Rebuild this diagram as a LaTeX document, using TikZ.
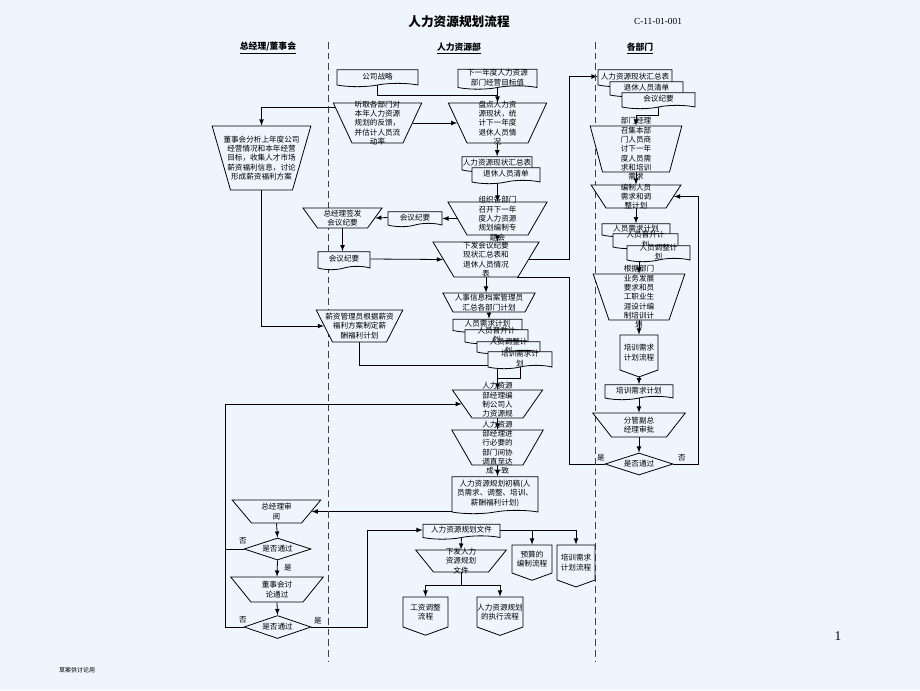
\documentclass[tikz,border=0pt]{standalone}
\usepackage{fontspec}
\setmainfont{Liberation Serif}
\newfontfamily\cjk{Noto Sans CJK SC}
\usetikzlibrary{shapes.geometric,shapes.symbols,positioning}
\definecolor{sfondo}{RGB}{238,245,253}
\newdimen\pxu
\pxu=0.75pt
\pgfdeclarelayer{sotto}
\pgfsetlayers{sotto,main}
\tikzset{
  testo/.style={font=\cjk\fontsize{5.7pt}{7pt}\selectfont},
  every label/.style={testo, align=center, inner sep=0pt},
  trap/.style n args={3}{trapezium, shape border rotate=180,
    trapezium angle=#3, text width=#1\pxu, text height=#2\pxu,
    text depth=0pt, inner sep=0pt, draw, fill=sfondo, line width=0.6pt},
  doc/.style 2 args={tape, tape bend top=none, tape bend height=2.5pt,
    draw, fill=sfondo, line width=0.6pt, inner sep=0pt,
    minimum width=#1\pxu, minimum height=#2\pxu},
  uscita/.style 2 args={signal, signal to=south, signal from=nowhere,
    signal pointer angle=140, draw, fill=sfondo, line width=0.6pt,
    inner sep=0pt, minimum width=#1\pxu, minimum height=#2\pxu},
  scelta/.style={diamond, aspect=3, draw, fill=sfondo, line width=0.6pt,
    inner sep=0pt, minimum width=67\pxu, minimum height=22\pxu, testo},
  freccia/.style={->, >=latex, line width=0.6pt},
  linea/.style={line width=0.6pt},
  corsia/.style={dash pattern=on 5pt off 3pt, line width=0.7pt, black!75},
  titolo/.style={font=\cjk\bfseries\fontsize{6.6pt}{8pt}\selectfont},
  sino/.style={testo, inner sep=0pt}
}

\begin{document}
\begin{tikzpicture}[x=0.75pt,y=-0.75pt]
    % Sfondo
    \useasboundingbox (0,0) rectangle (920,690);
    \begin{pgfonlayer}{sotto}
      \fill[sfondo] (0,0) rectangle (920,690);
    \end{pgfonlayer}
    % Titolo e intestazioni
    \node[font=\cjk\bfseries\fontsize{9.5pt}{11pt}\selectfont] (tit) at (459,22) {人力资源规划流程};
    \node[font=\fontsize{7pt}{8pt}\selectfont] (codice) at (658,21) {C-11-01-001};
    \node[titolo] (capo1) at (268,48) {\underline{总经理/董事会}};
    \node[titolo] (capo2) at (459,48) {\underline{人力资源部}};
    \node[titolo] (capo3) at (640,48) {\underline{各部门}};
    \node[font=\fontsize{10pt}{12pt}\selectfont] (pagina) at (838,636) {1};
    \node[font=\cjk\fontsize{4.5pt}{5pt}\selectfont] (nota) at (77,670) {草案供讨论用};
    % Linee di separazione
    \draw[corsia] (328,42) -- (328,662);
    \draw[corsia] (595,42) -- (595,662);

    % Colonna risorse umane
    \node[doc={81}{17}, label={center:{公司战略}}] (strategia) at (377.5,76.5) {};
    \node[doc={79}{20}, label={center:{下一年度人力资源\\部门经营目标值}}] (obiettivi) at (497.5,77.5) {};
    \node[trap={51}{40}{65}, label={center:{听取各部门对\\本年人力资源\\规划的反馈，\\并估计人员流\\动率}}] (ascolto) at (377.5,123) {};
    \node[trap={61}{40}{65}, label={center:{盘点人力资\\源现状，统\\计下一年度\\退休人员情\\况}}] (inventario) at (497.5,123) {};
    \node[doc={70}{15}, label={center:{人力资源现状汇总表}}] (riepilogo) at (497,162.5) {};
    \node[doc={68}{16}, label={center:{退休人员清单}}] (pensionati) at (506,174) {};
    \node[trap={61}{33}{60}, label={center:{组织各部门\\召开下一年\\度人力资源\\规划编制专\\题会}}] (riunione) at (497.5,218.5) {};
    \node[doc={54}{15}, label={center:{会议纪要}}] (verbale) at (415,217.5) {};
    \node[trap={50}{20}{54}, label={center:{总经理签发\\会议纪要}}] (firma) at (342.5,218) {};
    \node[doc={52}{18}, label={center:{会议纪要}}] (verbalef) at (344,259) {};
    \node[trap={64}{35}{59}, label={center:{下发会议纪要\\现状汇总表和\\退休人员情况\\表}}] (diffusione) at (486,259.5) {};
    \node[trap={72}{19}{62}, label={center:{人事信息档案管理员\\汇总各部门计划}}] (archivio) at (489,302.5) {};
    \node[doc={69}{13}, label={center:{人员需求计划}}] (fabbisogno) at (487.5,324) {};
    \node[doc={63}{14}, label={center:{人员晋升计\\划}}] (promozione) at (496.5,335) {};
    \node[doc={63}{12}, label={center:{人员调整计\\划}}] (adeguamento) at (508.5,346) {};
    \node[doc={64}{17}, label={center:{培训需求计\\划}}] (formazione) at (520,358.5) {};
    \node[trap={51}{28}{55}, label={[yshift=3pt]center:{人力资源\\部经理编\\制公司人\\力资源规}}] (stesura) at (497.5,404) {};
    \node[trap={51}{35}{60}, label={center:{人力资源\\部经理进\\行必要的\\部门间协\\调直至达\\成一致}}] (coordinamento) at (497.5,447.5) {};
    \node[doc={86}{37}, label={center:{人力资源规划初稿(人\\员需求、调整、培训、\\薪酬福利计划)}}] (bozza) at (495,493.5) {};
    \node[doc={77}{15}, label={center:{人力资源规划文件}}] (piano) at (461.5,530) {};
    \node[trap={55}{22}{51}, label={center:{下发人力\\资源规划\\文件}}] (diffpiano) at (461,561) {};
    \node[uscita={40}{28}, label={center:{预算的\\编制流程}}] (budget) at (532,559) {};
    \node[uscita={38}{35}, label={center:{培训需求\\计划流程}}] (formflusso) at (576,562.5) {};
    \node[uscita={45}{30}, label={center:{工资调整\\流程}}] (paghe) at (425.5,612) {};
    \node[uscita={46}{30}, label={center:{人力资源规划\\的执行流程}}] (esecuzione) at (500,612) {};

    % Colonna direzione
    \node[trap={62}{64}{74}, label={center:{董事会分析上年度公司\\经营情况和本年经营\\目标，收集人才市场\\薪资福利信息，讨论\\形成薪资福利方案}}] (consiglio) at (261.5,158) {};
    \node[trap={54}{32}{63}, label={center:{薪资管理员根据薪资\\福利方案制定薪\\酬福利计划}}] (salari) at (359.5,326) {};
    \node[trap={50}{23}{50}, label={center:{总经理审\\阅}}] (revisione) at (276.5,511.5) {};
    \node[scelta] (esito1) at (277.5,549) {是否通过};
    \node[trap={52}{25}{51}, label={center:{董事会讨\\论通过}}] (cda) at (277,589.5) {};
    \node[scelta, minimum height=23\pxu] (esito2) at (277.5,627) {是否通过};

    % Colonna reparti
    \node[doc={74}{17}, label={center:{人力资源现状汇总表}}] (riep2) at (635,76.5) {};
    \node[doc={73}{15}, label={center:{退休人员清单}}] (pens2) at (646.5,87.5) {};
    \node[doc={73}{16}, label={center:{会议纪要}}] (verb2) at (658.5,99) {};
    \node[trap={67}{46}{75}, label={center:{部门经理\\召集本部\\门人员商\\讨下一年\\度人员需\\求和培训\\需求}}] (consulta) at (636,149) {};
    \node[trap={60}{23}{57}, label={center:{编制人员\\需求和调\\整计划}}] (compila) at (636,196.5) {};
    \node[doc={68}{13}, label={center:{人员需求计划}}] (fabb2) at (636,228.5) {};
    \node[doc={65}{15}, label={center:{人员晋升计\\划}}] (prom2) at (645.5,239.5) {};
    \node[doc={63}{16}, label={center:{人员调整计\\划}}] (adeg2) at (658.5,252) {};
    \node[trap={60}{46}{71}, label={center:{根据部门\\业务发展\\要求和员\\工职业生\\涯设计编\\制培训计\\划}}] (sviluppo) at (639,297) {};
    \node[uscita={38}{35}, label={center:{培训需求\\计划流程}}] (formflusso2) at (639,352.5) {};
    \node[doc={68}{15}, label={center:{培训需求计划}}] (formpiano) at (639,390.5) {};
    \node[trap={55}{24}{52}, label={center:{分管副总\\经理审批}}] (vice) at (639,425) {};
    \node[scelta, minimum width=68\pxu] (esito3) at (639,464) {是否通过};

    % Etichette si/no
    \node[sino] (no1) at (243,541) {否};
    \node[sino] (si1) at (288,568) {是};
    \node[sino] (no2) at (243,620) {否};
    \node[sino] (si2) at (318,621) {是};
    \node[sino] (si3) at (601,458) {是};
    \node[sino] (no3) at (682,458) {否};

    % Punti di raccordo
    \coordinate (giunto1) at (497.5,95);
    \coordinate (giunto2) at (497.5,365);
    \coordinate (giunto3) at (497.5,378);
    \coordinate (giunto4) at (461,585);
    \coordinate (gomito1) at (569,0);
    \coordinate (gomito2) at (698,0);
    \coordinate (gomito3) at (225,0);
    \coordinate (gomito4) at (367,0);

    % Collegamenti
    \begin{pgfonlayer}{sotto}
    \draw[linea] (strategia.south) |- (giunto1);
    \draw[freccia] (obiettivi.south) -- (inventario.90);
    \draw[freccia] (ascolto.0) -- (inventario.180);
    \draw[freccia] (ascolto.160) -| (consiglio.90);
    \draw[freccia] (inventario.270) -- (riepilogo.north);
    \draw[freccia] (riunione.90 |- pensionati.south) -- (riunione.90);
    \draw[freccia] (riunione.180) -- (riunione.180 -| verbale.east);
    \draw[freccia] (verbale.west) -- (firma.0);
    \draw[freccia] (firma.270) -- (firma.270 |- verbalef.north);
    \draw[freccia] (verbalef.east) -- (diffusione.180);
    \draw[freccia] (riunione.270) -- (riunione.270 |- diffusione.90);
    \draw[freccia] (diffusione.0) -| (gomito1 |- riep2.west) -- (riep2.west);
    \draw[linea] (esito3.west) -| (gomito1 |- diffusione.-30) -- (diffusione.-30);
    \draw[freccia] (esito3.east) -| (gomito2 |- compila.0) -- (compila.0);
    \draw[freccia] (diffusione.270) -- (diffusione.270 |- archivio.90);
    \draw[freccia] (archivio.270) -- (archivio.270 |- fabbisogno.north);
    \draw[freccia] (consiglio.270) |- (salari.180);
    \draw[freccia] (salari.270) |- (giunto2) -- (stesura.90);
    \draw[linea] (formazione.south) |- (giunto3);
    \draw[freccia] (stesura.270) -- (coordinamento.90);
    \draw[freccia] (coordinamento.270) -- (coordinamento.270 |- bozza.north);
    \draw[freccia] (bozza.south) |- (revisione.0);
    \draw[freccia] (revisione.270) -- (esito1.north);
    \draw[freccia] (esito1.south) -- (cda.90);
    \draw[freccia] (cda.270) -- (esito2.north);
    \draw[linea] (esito1.west) -- (gomito3 |- esito1.west);
    \draw[freccia] (esito2.west) -- (gomito3 |- esito2.west) |- (stesura.180);
    \draw[freccia] (esito2.east) -- (gomito4 |- esito2.east) |- (piano.west);
    \draw[freccia] (piano.east) -| (formflusso.north);
    \draw[freccia] (budget.north |- piano.east) -- (budget.north);
    \draw[freccia] (piano.south) -- (diffpiano.90);
    \draw[linea] (diffpiano.270) -- (giunto4);
    \draw[freccia] (giunto4) -| (paghe.north);
    \draw[freccia] (giunto4) -| (esecuzione.north);
    \draw[freccia] (verb2.south) -- ++(0,10) -| (consulta.90);
    \draw[freccia] (consulta.270) -- (compila.90);
    \draw[freccia] (compila.270) -- (fabb2.north);
    \draw[freccia] (sviluppo.90 |- adeg2.south) -- (sviluppo.90);
    \draw[freccia] (sviluppo.270) -- (formflusso2.north);
    \draw[freccia] (formflusso2.south) -- (formpiano.north);
    \draw[freccia] (formpiano.south) -- (vice.90);
    \draw[freccia] (vice.270) -- (esito3.north);
    \end{pgfonlayer}
\end{tikzpicture}
\end{document}
